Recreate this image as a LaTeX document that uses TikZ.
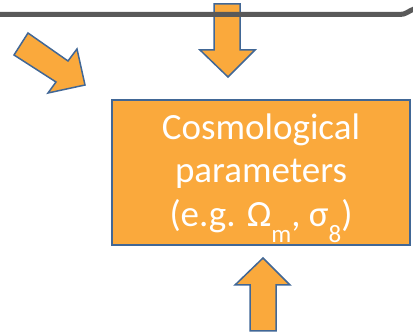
\documentclass[tikz,border=0pt]{standalone}
\usepackage{fontspec}
\setmainfont{Carlito}
\definecolor{naranja}{RGB}{250,169,60}
\definecolor{borde}{RGB}{65,103,150}
\definecolor{linea}{RGB}{89,89,89}
\newcommand{\baja}[1]{\raisebox{-0.42em}{\fontsize{25}{25}\selectfont #1}}

\begin{document}
\begin{tikzpicture}[x=1pt, y=-1pt,
  flecha/.style={draw=borde, fill=naranja, line width=1.5pt, line join=miter},
  caja/.style={draw=borde, fill=naranja, line width=1.5pt, minimum width=298pt, minimum height=145pt},
  texto/.style={text=white, align=center, font=\fontsize{37}{43.5}\selectfont}]
  \useasboundingbox (0,0) rectangle (413,334);
  % flechas
  \draw[flecha] (14,55) -- (28,33) -- (68,61) -- (77,49) -- (85,85) -- (48,93) -- (56,82) -- cycle;
  \draw[flecha] (214,4) -- (240,4) -- (240,50) -- (255,50) -- (228,77) -- (200,50) -- (214,50) -- cycle;
  \draw[flecha] (250,331) -- (250,285) -- (235,285) -- (263,258) -- (290,285) -- (276,285) -- (276,331) -- cycle;
  % barra superior
  \draw[linea, line width=5pt] (0,14.5) -- (400,14.5) to[out=0, in=200] (414,9);
  % caja
  \node[caja] (param) at (261,172.5) {};
  \node[texto] (lbl) at (261,178) {Cosmological\\parameters\\(e.g. Ω\baja{m}, σ\baja{8})};
\end{tikzpicture}
\end{document}
